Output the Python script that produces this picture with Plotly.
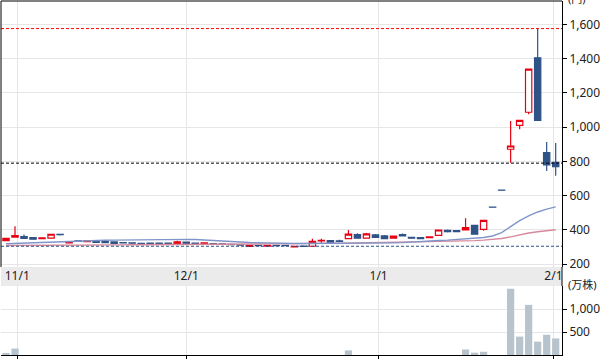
import plotly.graph_objects as go

# ---------------- data ----------------
idx = list(range(62))
opens = [338, 358, 361, 355, 350, 352, 374, 325, 337, 332, 333, 332, 330, 326, 325, 322, 323, 324, 324, 322,
         329, 323, 316, 320, 319, 316, 314, 304, 311, 305, 311, 310, 301, 306, 305, 336, 338, 336, 350, 373,
         353, 371, 365, 352, 373, 357, 356, 355, 369, 398, 397, 401, 427, 404, 534, 633, 871, 1010, 1087, 1405,
         851, 795]
highs = [353, 422, 373, 358, 358, 378, 378, 334, 339, 338, 338, 335, 334, 329, 328, 325, 325, 326, 326, 337,
         331, 325, 328, 322, 321, 318, 316, 312, 312, 311, 312, 311, 307, 308, 349, 349, 342, 343, 400, 381,
         382, 377, 370, 366, 380, 360, 358, 362, 400, 403, 399, 468, 428, 458, 534, 633, 1036, 1040, 1339, 1577,
         913, 908]
lows = [337, 356, 350, 345, 349, 350, 368, 323, 332, 330, 326, 324, 319, 322, 321, 317, 320, 321, 321, 320,
        318, 316, 314, 317, 315, 313, 311, 302, 308, 303, 308, 306, 300, 303, 304, 323, 325, 331, 348, 350,
        351, 354, 347, 350, 362, 350, 348, 353, 365, 386, 389, 399, 373, 395, 533, 632, 792, 987, 1075, 1040,
        744, 717]
closes = [351, 367, 351, 346, 354, 375, 372, 332, 334, 336, 328, 326, 321, 324, 323, 318, 321, 322, 322, 330,
          320, 318, 325, 318, 317, 314, 312, 310, 309, 310, 309, 308, 305, 304, 334, 339, 327, 334, 376, 352,
          377, 356, 350, 364, 366, 352, 350, 360, 400, 390, 390, 414, 375, 456, 533, 632, 890, 1039, 1339, 1040,
          779, 770]
ma_short = [320, 322, 325, 327, 329, 331, 333, 335, 337, 338, 339, 340, 341, 342, 343, 344, 344, 345, 345, 345,
            345, 344, 342, 339, 336, 333, 330, 327, 325, 323, 322, 322, 321, 321, 321, 322, 322, 322, 322, 323,
            323, 323, 324, 325, 326, 330, 333, 336, 339, 341, 344, 346, 350, 356, 365, 385, 420, 455, 482, 505,
            522, 535]
ma_long = [309, 309, 310, 310, 310, 311, 311, 311, 312, 312, 312, 313, 313, 313, 314, 314, 314, 315, 315, 315,
           316, 316, 316, 317, 317, 317, 318, 318, 318, 319, 319, 320, 320, 321, 321, 322, 322, 323, 323, 324,
           325, 326, 326, 326, 327, 327, 328, 330, 331, 332, 334, 336, 338, 341, 345, 350, 360, 372, 382, 390,
           396, 401]
volume = [25, 140, 0, 0, 0, 0, 0, 0, 0, 0, 0, 0, 0, 0, 0, 0, 0, 0, 0, 0,
          0, 0, 0, 0, 0, 0, 0, 0, 0, 0, 0, 0, 0, 0, 0, 0, 0, 0, 100, 0,
          0, 0, 0, 0, 0, 0, 0, 0, 0, 0, 0, 120, 50, 70, 0, 0, 1440, 400, 1090, 290,
          440, 360]
date_pos = [1.25, 20.0, 41.35, 60.75]
date_labels = ["11/1", "12/1", "1/1", "2/1"]
price_ticks = [200, 400, 600, 800, 1000, 1200, 1400, 1600]
vol_ticks = [500, 1000]
high_line = 1575
mid_line = 790
low_line = 305

# ---------------- figure ----------------
UP = "#e60012"
DOWN = "#2f5386"
GRID = "#e6e6e6"
FONT = "Noto Sans, Noto Sans CJK JP, sans-serif"

fig = go.Figure()

fig.add_trace(go.Scatter(x=idx, y=ma_long, mode="lines", line=dict(color="#d7899c", width=1.4),
                         hoverinfo="skip", showlegend=False, xaxis="x", yaxis="y"))
fig.add_trace(go.Scatter(x=idx, y=ma_short, mode="lines", line=dict(color="#7f95c9", width=1.4),
                         hoverinfo="skip", showlegend=False, xaxis="x", yaxis="y"))
fig.add_trace(go.Candlestick(
    x=idx, open=opens, high=highs, low=lows, close=closes,
    increasing=dict(line=dict(color=UP, width=1.2), fillcolor="white"),
    decreasing=dict(line=dict(color=DOWN, width=1.2), fillcolor=DOWN),
    whiskerwidth=0, showlegend=False, xaxis="x", yaxis="y"))
fig.add_trace(go.Bar(x=idx, y=volume, marker=dict(color="#b7c3cd", line=dict(width=0)), width=0.8,
                     showlegend=False, hoverinfo="skip", xaxis="x2", yaxis="y2"))

VOL_TOP = 0.1949
PRICE_BOT = 0.2486

shapes = [
    dict(type="rect", xref="paper", yref="paper", x0=0, x1=1, y0=VOL_TOP, y1=PRICE_BOT,
         fillcolor="#ebebeb", line=dict(width=0), layer="below"),
    dict(type="line", xref="paper", yref="y", x0=0, x1=1, y0=high_line, y1=high_line,
         line=dict(color="#ff0000", width=1, dash="3px,2px")),
    dict(type="line", xref="paper", yref="y", x0=0, x1=1, y0=mid_line, y1=mid_line,
         line=dict(color="#000000", width=1, dash="3px,2px")),
    dict(type="line", xref="paper", yref="y", x0=0, x1=1, y0=low_line, y1=low_line,
         line=dict(color=DOWN, width=1, dash="3px,2px")),
    dict(type="line", xref="paper", yref="paper", x0=0, x1=1, y0=1, y1=1,
         line=dict(color="#000", width=1)),
    dict(type="line", xref="paper", yref="paper", x0=0, x1=0, y0=PRICE_BOT, y1=1,
         line=dict(color="#000", width=1)),
    dict(type="line", xref="paper", yref="paper", x0=1, x1=1, y0=VOL_TOP, y1=PRICE_BOT,
         line=dict(color="#000", width=1)),
]

fig.update_layout(
    width=604, height=362,
    margin=dict(l=1, r=42, t=1, b=7),
    paper_bgcolor="white", plot_bgcolor="white",
    font=dict(family=FONT, size=12, color="#222"),
    showlegend=False, hovermode=False,
    boxgap=0.3, boxgroupgap=0,
    xaxis=dict(domain=[0, 1], range=[-0.555, 61.70], anchor="y",
               tickmode="array", tickvals=date_pos, ticktext=date_labels,
               showgrid=True, gridcolor=GRID, gridwidth=1, zeroline=False, showline=False,
               ticks="", tickfont=dict(size=12, color="#222"), rangeslider=dict(visible=False)),
    xaxis2=dict(domain=[0, 1], matches="x", anchor="y2",
                tickmode="array", tickvals=date_pos, showticklabels=False,
                showgrid=True, gridcolor=GRID, zeroline=False,
                showline=True, linecolor="#000", linewidth=1, ticks="outside", ticklen=3, tickcolor="#000"),
    yaxis=dict(domain=[PRICE_BOT, 1], range=[184, 1736], side="right", anchor="x",
               tickmode="array", tickvals=price_ticks, tickformat=",",
               showgrid=True, gridcolor=GRID, zeroline=False,
               showline=True, linecolor="#000", linewidth=1, ticks="outside", ticklen=4, tickcolor="#000",
               tickfont=dict(size=12, color="#222")),
    yaxis2=dict(domain=[0, VOL_TOP], range=[0, 1500], side="right", anchor="x2",
                tickmode="array", tickvals=vol_ticks, tickformat=",",
                showgrid=True, gridcolor=GRID, zeroline=False,
                showline=True, linecolor="#000", linewidth=1, ticks="outside", ticklen=4, tickcolor="#000",
                tickfont=dict(size=12, color="#222")),
    shapes=shapes,
    annotations=[
        dict(text="(円)", xref="paper", yref="paper", x=1, y=1, xanchor="left", yanchor="middle",
             xshift=4, yshift=3, showarrow=False, font=dict(size=11, family=FONT, color="#222")),
        dict(text="(万株)", xref="paper", yref="paper", x=1, y=VOL_TOP, xanchor="left", yanchor="middle",
             xshift=4, yshift=2, showarrow=False, font=dict(size=11, family=FONT, color="#222")),
    ],
)

fig.write_html("out.html")
